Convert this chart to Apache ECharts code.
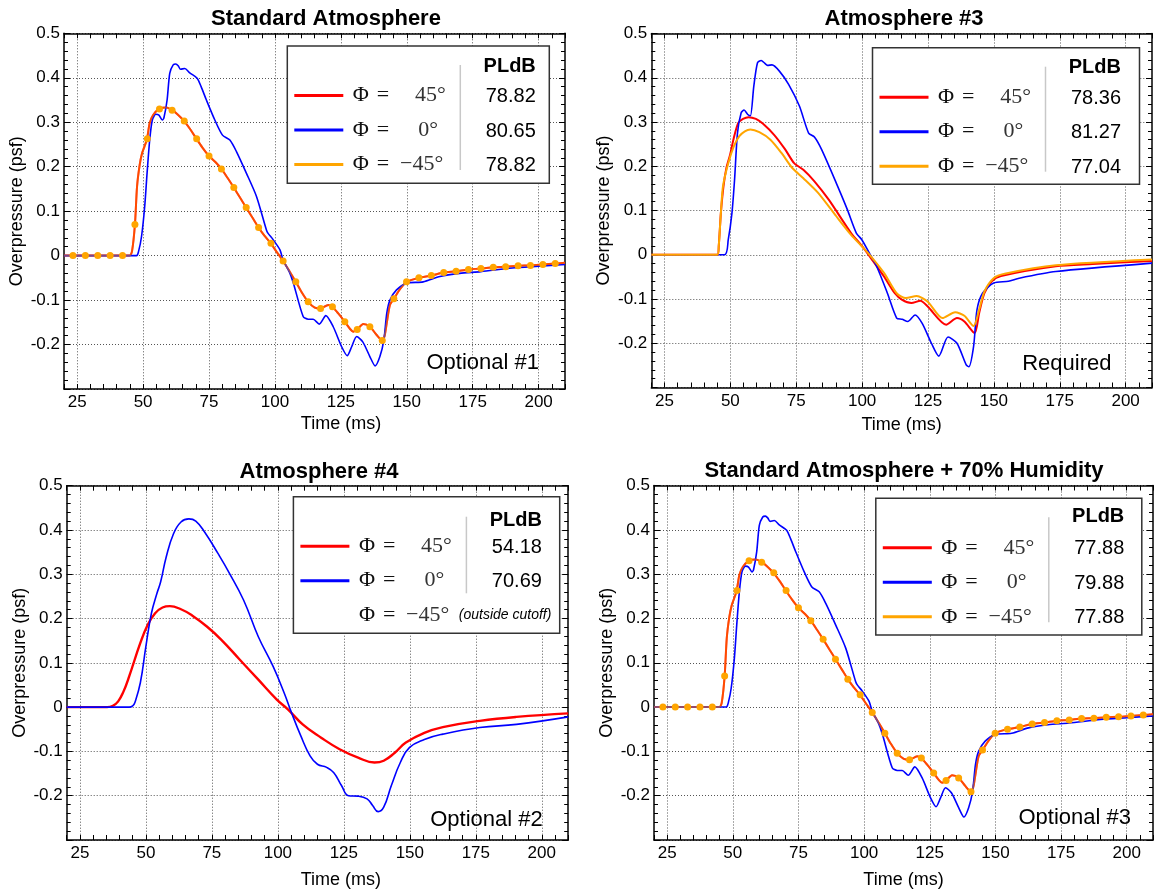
<!DOCTYPE html>
<html><head><meta charset="utf-8">
<script src="https://cdn.jsdelivr.net/npm/echarts@6/dist/echarts.min.js"></script>
<style>html,body{margin:0;padding:0;background:#fff}#c{width:1154px;height:894px}</style>
</head><body><div id="c"></div>
<script>
// ---------------- data ----------------
const xCategories = ['20','25','30','35','40','45','50','55','60','65','70','75','80','85','90','95','100','105','110','115','120','125','130','135','140','145','150','155','160','165','170','175','180','185','190','195','200','205','210'];
const xTickLabels = ['25','50','75','100','125','150','175','200'];
const yTickLabels = ['-0.2','-0.1','0','0.1','0.2','0.3','0.4','0.5'];

const panelTitles = ['Standard Atmosphere','Atmosphere #3','Atmosphere #4','Standard Atmosphere + 70% Humidity'];
const panelTags = ['Optional #1','Required','Optional #2','Optional #3'];
const angleLabels = ['45°','0°','−45°'];
const stdPLdB = ['78.82','80.65','78.82'];
const atm3PLdB = ['78.36','81.27','77.04'];
const atm4PLdB = ['54.18','70.69'];
const humidPLdB = ['77.88','79.88','77.88'];
const outsideNote = '(outside cutoff)';

// Standard atmosphere: Phi=45 and Phi=-45 coincide
const std45 = [[20,0],[28,0],[35,0],[42,0],[44.9,0],[45.8,0.01],[46.9,0.070],[47.7,0.155],[48.7,0.204],[49.6,0.230],[50.5,0.245],[51.5,0.263],[52.5,0.298],[53.8,0.316],[56.1,0.330],[58.9,0.333],[61,0.327],[63,0.318],[65.5,0.303],[68,0.283],[70.2,0.263],[72.5,0.243],[75,0.224],[77.5,0.210],[79.7,0.195],[82,0.175],[84.4,0.153],[86.8,0.130],[89.1,0.108],[91.5,0.085],[93.8,0.063],[96,0.045],[98.4,0.028],[100.7,0.008],[103.1,-0.012],[105.5,-0.035],[107.9,-0.059],[110.2,-0.083],[112.6,-0.104],[115.1,-0.117],[117.3,-0.119],[120.2,-0.111],[121.7,-0.115],[124,-0.130],[126.5,-0.149],[128.5,-0.165],[129.7,-0.171],[131.2,-0.166],[133.5,-0.154],[136,-0.160],[138.5,-0.178],[140.7,-0.191],[141.6,-0.180],[142.4,-0.152],[143.6,-0.111],[145.1,-0.097],[147.5,-0.075],[149.9,-0.059],[154.6,-0.050],[159.3,-0.045],[164,-0.038],[168.7,-0.035],[173.4,-0.031],[178.1,-0.029],[182.8,-0.026],[187.5,-0.025],[192.2,-0.023],[196.9,-0.022],[201.6,-0.020],[206.3,-0.018],[210,-0.016]];
const stdMinus45 = std45;
const stdDots = [[23.4,0],[28.1,0],[32.8,0],[37.5,0],[42.2,0],[46.9,0.070],[51.6,0.263],[56.2,0.330],[61.0,0.327],[65.6,0.303],[70.3,0.263],[75.0,0.224],[79.7,0.195],[84.4,0.153],[89.1,0.108],[93.8,0.063],[98.5,0.028],[103.1,-0.012],[107.9,-0.059],[112.6,-0.104],[117.3,-0.119],[121.8,-0.115],[126.5,-0.149],[131.2,-0.166],[136.0,-0.160],[140.7,-0.191],[145.1,-0.097],[149.9,-0.059],[154.6,-0.050],[159.3,-0.045],[164.0,-0.038],[168.7,-0.035],[173.4,-0.031],[178.1,-0.029],[182.8,-0.026],[187.5,-0.025],[192.2,-0.023],[196.9,-0.022],[201.6,-0.020],[206.3,-0.018]];
const std0 = [[20,0],[47.5,0],[48.3,0.01],[49.4,0.043],[50.6,0.110],[51.5,0.185],[52.5,0.260],[53.5,0.305],[54.8,0.318],[56,0.316],[57.3,0.305],[57.9,0.310],[59.1,0.350],[60.1,0.410],[61.4,0.429],[62.4,0.431],[63.3,0.427],[64.2,0.419],[65.8,0.421],[67.7,0.411],[70.5,0.399],[72,0.380],[74,0.350],[77.2,0.305],[80.1,0.271],[82.9,0.260],[85.4,0.234],[89.2,0.185],[93,0.133],[96.8,0.057],[97.4,0.050],[99.3,0.036],[101.9,0.013],[103.1,-0.010],[105.5,-0.037],[107,-0.062],[110.7,-0.137],[112.6,-0.143],[114.5,-0.143],[116.8,-0.154],[119.3,-0.135],[122.1,-0.160],[125.3,-0.205],[127.4,-0.225],[129.1,-0.205],[131,-0.182],[133.3,-0.194],[136,-0.227],[138,-0.248],[139.8,-0.227],[141.3,-0.190],[142.4,-0.130],[143.6,-0.100],[146.1,-0.077],[149.9,-0.062],[156.2,-0.059],[162.6,-0.047],[170,-0.040],[178.1,-0.036],[190,-0.028],[200,-0.024],[210,-0.020]];

// Atmosphere #3
const atm3_45 = [[20,0],[45.1,0],[45.6,0.02],[46.4,0.094],[47.4,0.155],[48.5,0.196],[49.9,0.226],[51.3,0.264],[53,0.298],[54.8,0.307],[56.9,0.311],[59.7,0.307],[62.4,0.296],[66.6,0.271],[70.8,0.238],[74.2,0.207],[77.7,0.192],[81.9,0.166],[87.4,0.124],[95.8,0.049],[99.9,0.020],[103.4,-0.008],[108.3,-0.049],[112.4,-0.087],[115.2,-0.102],[118.7,-0.109],[122.1,-0.104],[124.9,-0.117],[131.9,-0.158],[136,-0.143],[138.8,-0.151],[142.7,-0.177],[144.4,-0.132],[146.4,-0.087],[149.2,-0.060],[152.7,-0.048],[173.5,-0.026],[187.4,-0.021],[210,-0.014]];
const atm3_0 = [[20,0],[47.8,0],[49.2,0.034],[50.6,0.094],[51.6,0.170],[52.7,0.275],[54.1,0.321],[55.2,0.327],[56.6,0.317],[57.6,0.314],[58.9,0.381],[60.3,0.434],[61.7,0.439],[63,0.433],[64.1,0.428],[65.8,0.429],[68.6,0.415],[72.1,0.385],[76.2,0.336],[79.7,0.275],[81.9,0.266],[84.6,0.238],[90.2,0.162],[94.4,0.102],[97.8,0.049],[99.9,0.034],[102.7,0.004],[105.5,-0.026],[109.6,-0.087],[113.1,-0.143],[115.2,-0.146],[117.3,-0.151],[120.1,-0.136],[122.8,-0.155],[126.3,-0.200],[129.1,-0.229],[132.6,-0.186],[136,-0.200],[139.5,-0.249],[140.5,-0.253],[142.3,-0.207],[143.6,-0.124],[145.7,-0.087],[149.9,-0.064],[155.5,-0.060],[159.6,-0.053],[173.5,-0.038],[210,-0.019]];
const atm3_m45 = [[20,0],[45.1,0],[45.6,0.02],[46.4,0.094],[47.2,0.155],[49.2,0.207],[51.3,0.245],[53.4,0.268],[55.5,0.279],[57.6,0.283],[61,0.277],[65.2,0.260],[69.4,0.230],[73.5,0.196],[77.7,0.173],[83.3,0.140],[90.2,0.087],[95.8,0.045],[99.9,0.019],[103.4,-0.004],[108.3,-0.041],[113.1,-0.087],[116.6,-0.098],[120.7,-0.093],[124.9,-0.106],[130.5,-0.143],[135.3,-0.130],[138.8,-0.138],[142.3,-0.161],[144.4,-0.124],[146.4,-0.083],[149.9,-0.053],[154.1,-0.043],[173.5,-0.024],[210,-0.011]];

// Atmosphere #4
const atm4_45 = [[20,0],[35.3,0],[37.5,0.003],[39.5,0.013],[41.5,0.035],[43.7,0.070],[47.9,0.145],[50.7,0.186],[53.5,0.212],[56.3,0.225],[59.1,0.228],[63.3,0.221],[67.5,0.207],[73.1,0.182],[78.6,0.152],[85.6,0.107],[92.6,0.062],[99.6,0.017],[103.8,-0.005],[109.4,-0.039],[116.4,-0.069],[123.4,-0.095],[130.4,-0.114],[136.6,-0.125],[140.1,-0.121],[144.3,-0.103],[148.5,-0.080],[155.5,-0.058],[162.5,-0.045],[176.5,-0.031],[190.4,-0.022],[210,-0.014]];
const atm4_0 = [[20,0],[43.7,0],[45,0.003],[45.8,0.010],[47.9,0.055],[50,0.137],[52.1,0.212],[54.2,0.257],[55.6,0.283],[57.7,0.339],[60.5,0.392],[63.3,0.418],[66.3,0.425],[68.9,0.420],[72.3,0.395],[77.3,0.347],[81.4,0.305],[87,0.242],[92.6,0.159],[98.2,0.092],[102.4,0.032],[105.2,-0.013],[108.7,-0.065],[112.2,-0.110],[115,-0.129],[118.5,-0.136],[121.2,-0.148],[124.1,-0.177],[126.8,-0.200],[130.4,-0.201],[133.8,-0.207],[135.9,-0.222],[138,-0.236],[140.1,-0.226],[143,-0.177],[146.4,-0.125],[149.9,-0.091],[155.5,-0.073],[162.5,-0.061],[176.5,-0.046],[190.4,-0.039],[210,-0.022]];

// Standard atmosphere + 70% humidity (visually identical to the standard case)
const humid45 = std45;
const humidMinus45 = std45;
const humidDots = stdDots;
const humid0 = std0;

// ---------------- layout / style ----------------
const FONT = '"Liberation Sans", Arial, Helvetica, sans-serif';
const SERIF = '"Liberation Serif", "Times New Roman", serif';
const RED = '#ff0000', BLUE = '#0000ff', ORANGE = '#ffa500';

const panels = [
  { grid:{left:64, top:33.3, width:501, height:355.7}, title:[326,18.5], tag:[539,363], xNameGap:26, xNamePad:53,
    legend:{x:287.3, y:46, w:262, h:137.3, pldbY:20, sep:[19,124], pldb:stdPLdB, rows:3},
    series:[{d:std45,c:RED,w:2},{d:std0,c:BLUE,w:1.6},{d:stdMinus45,c:ORANGE,w:2,o:0.45}], dots:stdDots, sm:0.25 },
  { grid:{left:651.3, top:33.5, width:500.7, height:354}, title:[904,18.5], tag:[1111.5,363.5], xNameGap:28.5, xNamePad:0,
    legend:{x:872.5, y:47.7, w:267, h:136.6, pldbY:19.5, sep:[19,124], pldb:atm3PLdB, rows:3},
    series:[{d:atm3_45,c:RED,w:2},{d:atm3_0,c:BLUE,w:1.6},{d:atm3_m45,c:ORANGE,w:2}], dots:null, sm:0.25 },
  { grid:{left:66.7, top:485.7, width:501.5, height:354.3}, title:[319,472], tag:[542.7,820], xNameGap:31, xNamePad:47,
    legend:{x:293.4, y:496.7, w:266.3, h:136.6, pldbY:23.6, sep:[20,96.6], pldb:atm4PLdB, rows:2, note:true},
    series:[{d:atm4_45,c:RED,w:2.4},{d:atm4_0,c:BLUE,w:1.6}], dots:null, sm:0.45 },
  { grid:{left:654, top:485.5, width:499, height:354.5}, title:[904,471], tag:[1131,818], xNameGap:31, xNamePad:0,
    legend:{x:875.8, y:498.3, w:266, h:136.7, pldbY:18.5, sep:[19,124], pldb:humidPLdB, rows:3},
    series:[{d:humid45,c:RED,w:2},{d:humid0,c:BLUE,w:1.6},{d:humidMinus45,c:ORANGE,w:2,o:0.45}], dots:humidDots, sm:0.25 }
];
const ROW_Y = [49.5, 84, 118.5];
const ANGLE_X = {'45°':127.7, '0°':131, '−45°':112.7};
const ROW_COLORS = [RED, BLUE, ORANGE];

function txt(x, y, text, font, align, vAlign, color, z) {
  return {type:'text', x:x, y:y, z:z||102, silent:true,
    style:{text:text, font:font, fill:color||'#000', align:align, verticalAlign:vAlign, textAlign:align, textVerticalAlign:vAlign}};
}

const grids = [], xAxes = [], yAxes = [], series = [], gfx = [];
const axisLine = {show:true, onZero:false, lineStyle:{color:'#000', width:1.5}};
const isXLabel = (i, v) => xTickLabels.indexOf(String(v)) >= 0;
const yFmt = v => { const s = String(Math.round(v*10)/10); return yTickLabels.indexOf(s) >= 0 ? s : ''; };

panels.forEach((p, g) => {
  grids.push(Object.assign({containLabel:false, outerBoundsMode:'none'}, p.grid));
  // data axis (hidden)
  xAxes.push({gridIndex:g, type:'value', min:20, max:210, show:false});
  // display bottom axis
  xAxes.push({gridIndex:g, type:'category', data:xCategories, boundaryGap:false, position:'bottom',
    axisLine:axisLine, axisTick:{show:true, inside:true, length:5, interval:0, lineStyle:{color:'#000', width:1}},
    axisLabel:{show:true, interval:isXLabel, margin:5, fontSize:17, fontFamily:FONT, color:'#000'},
    splitLine:{show:true, interval:isXLabel, lineStyle:{type:[1,2], color:'#555', width:1}},
    name:'Time (ms)', nameLocation:'middle', nameGap:p.xNameGap,
    nameTextStyle:{fontSize:18, fontFamily:FONT, color:'#000', padding:[0,0,0,p.xNamePad]}});
  // top axis (ticks only)
  xAxes.push({gridIndex:g, type:'category', data:xCategories, boundaryGap:false, position:'top',
    axisLine:axisLine, axisTick:{show:true, inside:true, length:5, interval:0, lineStyle:{color:'#000', width:1}},
    axisLabel:{show:false}, splitLine:{show:false}});
  yAxes.push({gridIndex:g, type:'value', min:-0.3, max:0.5, interval:0.1, position:'left',
    axisLine:axisLine, axisTick:{show:true, inside:true, length:6, lineStyle:{color:'#000', width:1}},
    minorTick:{show:true, splitNumber:5, length:4, lineStyle:{color:'#000', width:1}},
    axisLabel:{show:true, formatter:yFmt, margin:4, fontSize:17, fontFamily:FONT, color:'#000'},
    splitLine:{show:true, lineStyle:{type:[1,2], color:'#555', width:1}},
    name:'Overpressure (psf)', nameLocation:'middle', nameGap:38,
    nameTextStyle:{fontSize:18, fontFamily:FONT, color:'#000'}});
  yAxes.push({gridIndex:g, type:'value', min:-0.3, max:0.5, interval:0.1, position:'right',
    axisLine:axisLine, axisTick:{show:true, inside:true, length:6, lineStyle:{color:'#000', width:1}},
    minorTick:{show:true, splitNumber:5, length:4, lineStyle:{color:'#000', width:1}},
    axisLabel:{show:false}, splitLine:{show:false}});

  p.series.forEach((s, k) => {
    series.push({type:'line', xAxisIndex:3*g, yAxisIndex:2*g, data:s.d, showSymbol:false, symbol:'none',
      smooth:p.sm, z:2+k, silent:true,
      lineStyle:{color:s.c, width:s.w, opacity:(s.o==null?1:s.o)}, itemStyle:{color:s.c}});
  });
  if (p.dots) {
    series.push({type:'scatter', xAxisIndex:3*g, yAxisIndex:2*g, data:p.dots, symbol:'circle', symbolSize:7,
      z:6, silent:true, itemStyle:{color:ORANGE, opacity:1}});
  }

  // title & tag
  gfx.push(txt(p.title[0], p.title[1], panelTitles[g], 'bold 22px '+FONT, 'center', 'middle'));
  gfx.push(txt(p.tag[0], p.tag[1], panelTags[g], '22px '+FONT, 'right', 'middle'));

  // legend table
  const L = p.legend;
  gfx.push({type:'rect', z:100, silent:true, shape:{x:L.x, y:L.y, width:L.w, height:L.h},
    style:{fill:'#fff', stroke:'#333', lineWidth:1.5}});
  gfx.push({type:'line', z:101, silent:true, shape:{x1:L.x+173, y1:L.y+L.sep[0], x2:L.x+173, y2:L.y+L.sep[1]},
    style:{stroke:'#c8c8c8', lineWidth:1.5}});
  gfx.push(txt(L.x+248.5, L.y+L.pldbY, 'PLdB', 'bold 20px '+FONT, 'right', 'middle'));
  for (let i = 0; i < 3; i++) {
    const y = L.y + ROW_Y[i];
    const hasLine = i < L.rows;
    if (hasLine) {
      gfx.push({type:'line', z:101, silent:true, shape:{x1:L.x+7, y1:y, x2:L.x+56, y2:y},
        style:{stroke:ROW_COLORS[i], lineWidth:3}});
    }
    gfx.push(txt(L.x+65.5, y, 'Φ', '22px '+SERIF, 'left', 'middle', '#111'));
    gfx.push(txt(L.x+89.5, y, '=', '22px '+SERIF, 'left', 'middle', '#111'));
    gfx.push(txt(L.x+ANGLE_X[angleLabels[i]], y, angleLabels[i], '22px '+SERIF, 'left', 'middle', '#333'));
    if (hasLine) gfx.push(txt(L.x+248.5, y+1, L.pldb[i], '20px '+FONT, 'right', 'middle'));
    else if (L.note) gfx.push(txt(L.x+165.4, y, outsideNote, 'italic 14px '+FONT, 'left', 'middle'));
  }
});

const chart = echarts.init(document.getElementById('c'), null, {renderer:'canvas'});
chart.setOption({
  animation:false,
  backgroundColor:'#fff',
  legend:{show:false},
  tooltip:{show:false},
  grid:grids, xAxis:xAxes, yAxis:yAxes, series:series,
  graphic:{elements:gfx}
});
</script></body></html>
